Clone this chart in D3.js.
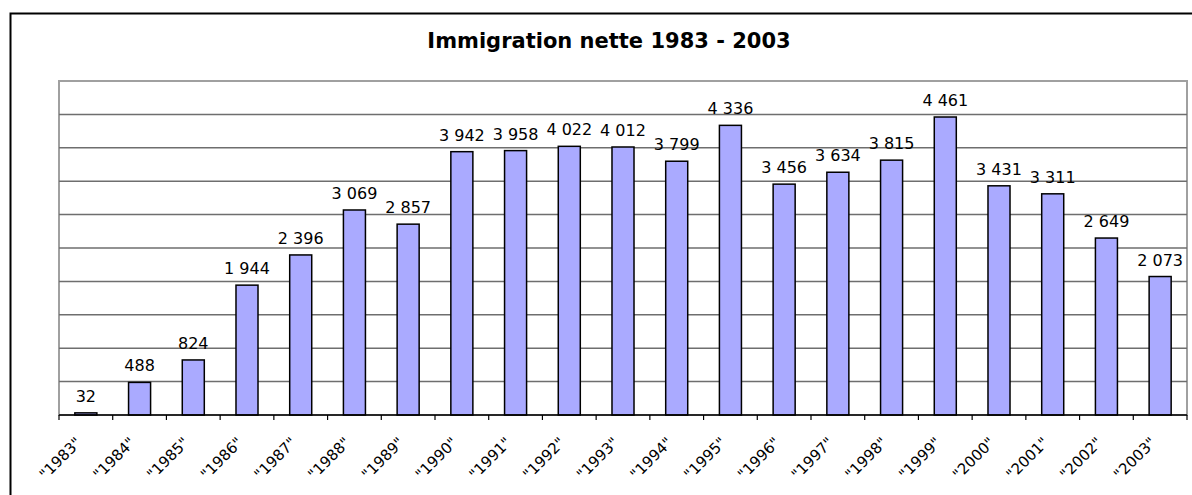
<!DOCTYPE html>
<html><head><meta charset="utf-8">
<script src="https://cdn.jsdelivr.net/npm/d3@7"></script>
<style>html,body{margin:0;padding:0;background:#fff;}svg{display:block;}</style>
</head><body>
<svg id="c" width="1192" height="495"></svg>
<script>
const categories = ["1983","1984","1985","1986","1987","1988","1989","1990","1991","1992","1993","1994","1995","1996","1997","1998","1999","2000","2001","2002","2003"];
const values = [32,488,824,1944,2396,3069,2857,3942,3958,4022,4012,3799,4336,3456,3634,3815,4461,3431,3311,2649,2073];
const gridTicks = [500,1000,1500,2000,2500,3000,3500,4000,4500];
const title = "Immigration nette 1983 - 2003";

const svg = d3.select("#c");
const font = "'DejaVu Sans', Verdana, sans-serif";
const L = 59, R = 1187, T = 81, B = 415;

svg.append("rect").attr("x",10.5).attr("y",13.5).attr("width",1200).attr("height",600)
  .attr("fill","#fff").attr("stroke","#000").attr("stroke-width",2);

const x = d3.scaleBand().domain(categories).range([L,R]).paddingInner(0.59).paddingOuter(0.295);
const y = d3.scaleLinear().domain([0,5000]).range([B,T]);

// plot border
svg.append("rect").attr("x",L).attr("y",T).attr("width",R-L).attr("height",B-T)
  .attr("fill","#fff").attr("stroke","#a0a0a0").attr("stroke-width",2);

// gridlines
svg.append("g").selectAll("line").data(gridTicks).join("line")
  .attr("x1",L).attr("x2",R).attr("y1",d=>y(d)).attr("y2",d=>y(d))
  .attr("stroke","#6e6e6e").attr("stroke-width",1.5);

// bars
svg.append("g").selectAll("rect").data(values).join("rect")
  .attr("x",(d,i)=>x(categories[i]))
  .attr("width",x.bandwidth())
  .attr("y",d=>y(d))
  .attr("height",d=>B-y(d))
  .attr("fill","#aaaaff").attr("stroke","#000").attr("stroke-width",1.5);

// value labels
const fmt = v => d3.format(",")(v).replace(/,/g," ");
svg.append("g").selectAll("text").data(values).join("text")
  .attr("x",(d,i)=>x(categories[i])+x.bandwidth()/2)
  .attr("y",d=>y(d)-11)
  .attr("text-anchor","middle")
  .attr("font-family",font).attr("font-size",16).attr("fill","#000")
  .text(d=>fmt(d));

// x axis
const band = x.step();
const ax = svg.append("g").attr("transform",`translate(0,${B})`);
ax.append("line").attr("x1",L).attr("x2",R).attr("y1",0).attr("y2",0).attr("stroke","#000").attr("stroke-width",1.5);
ax.selectAll("line.tick").data(d3.range(categories.length+1)).join("line").attr("class","tick")
  .attr("x1",i=>L+i*band).attr("x2",i=>L+i*band).attr("y1",0).attr("y2",5)
  .attr("stroke","#000").attr("stroke-width",1.2);
ax.selectAll("text").data(categories).join("text")
  .attr("transform",d=>`translate(${x(d)+x.bandwidth()/2-11},21) rotate(-45)`)
  .attr("text-anchor","end").attr("dy","0.72em")
  .attr("font-family",font).attr("font-size",15).attr("fill","#000")
  .text(d=>`"${d}"`);

svg.append("text").attr("x",609).attr("y",48).attr("text-anchor","middle")
  .attr("font-family",font).attr("font-size",21).attr("font-weight","bold").text(title);
</script>
</body></html>
